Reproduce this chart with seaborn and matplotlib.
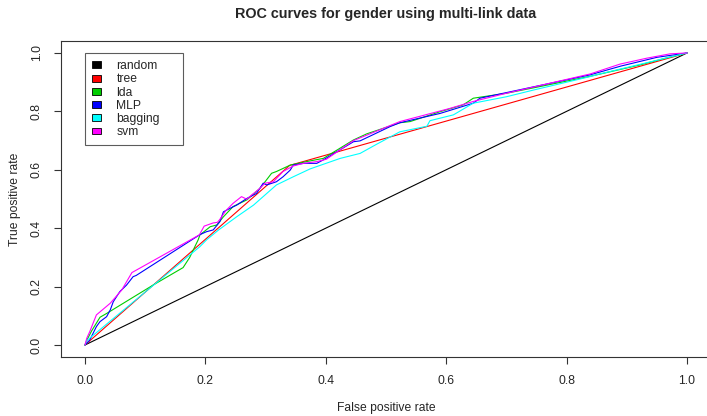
import numpy as np
import matplotlib
matplotlib.use("Agg")
import matplotlib.pyplot as plt
import seaborn as sns
from matplotlib.patches import Patch

# ROC points (false positive rate, true positive rate)
random_fpr = [0.0, 1.0]
random_tpr = [0.0, 1.0]

tree_fpr = [0.0, 0.34, 1.0]
tree_tpr = [0.0, 0.615, 1.0]

lda_fpr = [0.0, 0.004, 0.011, 0.025, 0.036, 0.113, 0.163, 0.174, 0.188, 0.191,
           0.208, 0.219, 0.230, 0.246, 0.269, 0.291, 0.310, 0.318, 0.341, 0.368,
           0.396, 0.446, 0.468, 0.523, 0.540, 0.590, 0.628, 0.645, 0.700, 0.756,
           0.839, 0.92, 0.97, 1.0]
lda_tpr = [0.0, 0.020, 0.048, 0.095, 0.108, 0.205, 0.265, 0.300, 0.360, 0.377,
           0.405, 0.411, 0.439, 0.474, 0.497, 0.537, 0.588, 0.594, 0.616, 0.628,
           0.639, 0.702, 0.723, 0.761, 0.765, 0.799, 0.822, 0.845, 0.862, 0.885,
           0.920, 0.958, 0.985, 1.0]

mlp_fpr = [0.0, 0.008, 0.019, 0.025, 0.036, 0.042, 0.047, 0.058, 0.069, 0.080,
           0.085, 0.191, 0.202, 0.213, 0.224, 0.230, 0.241, 0.252, 0.269, 0.285,
           0.296, 0.302, 0.318, 0.329, 0.341, 0.346, 0.363, 0.385, 0.396, 0.446,
           0.457, 0.507, 0.523, 0.590, 0.645, 0.656, 0.839, 0.89, 0.95, 1.0]
mlp_tpr = [0.0, 0.017, 0.063, 0.080, 0.097, 0.120, 0.148, 0.183, 0.205, 0.234,
           0.238, 0.378, 0.388, 0.394, 0.422, 0.456, 0.468, 0.479, 0.502, 0.519,
           0.554, 0.548, 0.559, 0.576, 0.599, 0.616, 0.622, 0.622, 0.634, 0.696,
           0.699, 0.748, 0.761, 0.793, 0.828, 0.845, 0.925, 0.955, 0.985, 1.0]

bagging_fpr = [0.0, 0.003, 0.191, 0.202, 0.222, 0.252, 0.280, 0.302, 0.318, 0.346,
               0.374, 0.424, 0.457, 0.485, 0.523, 0.568, 0.573, 0.612, 0.645, 0.700,
               0.745, 0.839, 0.855, 0.93, 1.0]
bagging_tpr = [0.0, 0.015, 0.337, 0.360, 0.394, 0.439, 0.479, 0.519, 0.548, 0.576,
               0.603, 0.639, 0.656, 0.688, 0.730, 0.749, 0.768, 0.788, 0.828, 0.850,
               0.873, 0.919, 0.928, 0.965, 1.0]

svm_fpr = [0.0, 0.003, 0.008, 0.019, 0.042, 0.061, 0.078, 0.190, 0.198, 0.213,
           0.220, 0.224, 0.234, 0.246, 0.260, 0.269, 0.277, 0.291, 0.299, 0.313,
           0.329, 0.346, 0.363, 0.385, 0.401, 0.446, 0.523, 0.606, 0.645, 0.700,
           0.839, 0.889, 0.933, 0.972, 1.0]
svm_tpr = [0.0, 0.023, 0.046, 0.103, 0.143, 0.188, 0.248, 0.377, 0.407, 0.418,
           0.420, 0.430, 0.460, 0.485, 0.508, 0.499, 0.514, 0.537, 0.554, 0.559,
           0.594, 0.613, 0.622, 0.628, 0.636, 0.700, 0.765, 0.810, 0.834, 0.862,
           0.928, 0.962, 0.982, 0.997, 1.0]

names = ["random", "tree", "lda", "MLP", "bagging", "svm"]
colors = ["#000000", "#FF0000", "#00CD00", "#0000FF", "#00FFFF", "#FF00FF"]
curves = [(random_fpr, random_tpr), (tree_fpr, tree_tpr), (lda_fpr, lda_tpr),
          (mlp_fpr, mlp_tpr), (bagging_fpr, bagging_tpr), (svm_fpr, svm_tpr)]

sns.set_style("ticks")
plt.rcParams["font.family"] = ["Liberation Sans", "DejaVu Sans"]

fig = plt.figure(figsize=(7.07, 4.16), dpi=100)
ax = fig.add_axes([0.0861, 0.1426, 0.9197, 0.7582])

for (fpr, tpr), c in zip(curves, colors):
    sns.lineplot(x=fpr, y=tpr, ax=ax, color=c, lw=0.8, sort=False,
                 estimator=None)

ax.set_xlim(-0.04, 1.04)
ax.set_ylim(-0.04, 1.04)
ticks = [0.0, 0.2, 0.4, 0.6, 0.8, 1.0]
ax.set_xticks(ticks)
ax.set_yticks(ticks)
ax.set_xticklabels([f"{t:.1f}" for t in ticks], fontsize=8.7)
ax.set_yticklabels([f"{t:.1f}" for t in ticks], fontsize=8.7, rotation=90,
                   va="center")
ax.tick_params(axis="both", length=5, width=0.8, color="#333333")
ax.tick_params(axis="x", pad=8)
ax.tick_params(axis="y", pad=8)
for s in ax.spines.values():
    s.set_visible(True)
    s.set_linewidth(0.8)
    s.set_color("#333333")

ax.set_xlabel("False positive rate", fontsize=8.7, va="center")
ax.xaxis.set_label_coords(0.5, -0.163)
ax.set_ylabel("True positive rate", fontsize=8.7, va="center",
              rotation_mode="anchor")
ax.yaxis.set_label_coords(-0.071, 0.5)
fig.text(386 / 707, 1 - 14 / 416, "ROC curves for gender using multi-link data",
         fontsize=10.4, fontweight="bold", ha="center", va="center")

handles = [Patch(facecolor=c, edgecolor="black", lw=0.6) for c in colors]
leg = ax.legend(handles, names, loc="upper left",
                bbox_to_anchor=(0.0, 1.0, 0.163, 0.0),
                bbox_transform=ax.transData, mode="expand", borderaxespad=0,
                fontsize=8.7, frameon=True, fancybox=False,
                edgecolor="#333333", handlelength=0.7, handleheight=0.5,
                handletextpad=1.3, borderpad=0.6, labelspacing=0.1)
leg.get_frame().set_linewidth(0.8)

fig.savefig("out.png", dpi=100)
